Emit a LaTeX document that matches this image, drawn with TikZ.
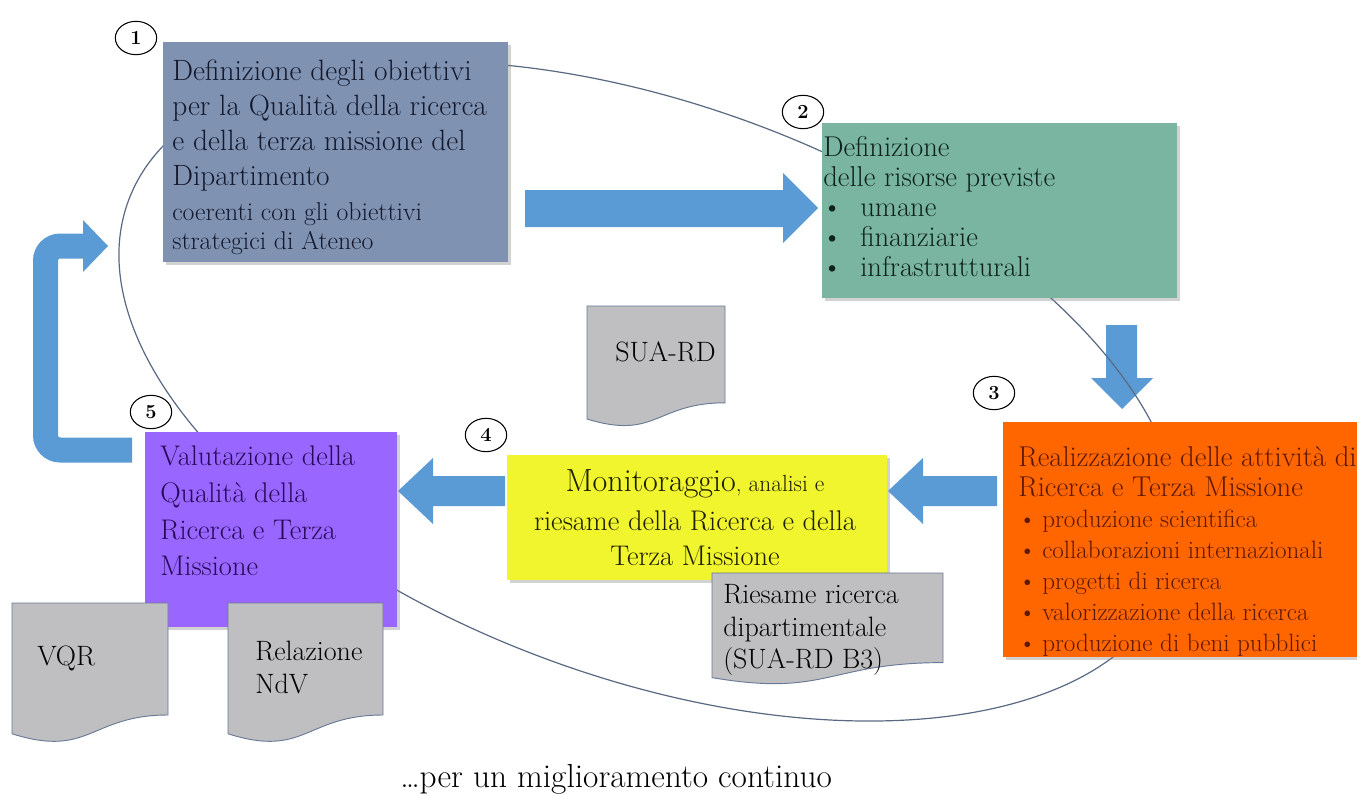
\documentclass[tikz,border=0pt]{standalone}
\usetikzlibrary{shadows,fit,shapes.geometric}
\definecolor{cA}{RGB}{127,146,178}
\definecolor{cB}{RGB}{121,181,160}
\definecolor{cC}{RGB}{255,102,0}
\definecolor{cD}{RGB}{240,245,45}
\definecolor{cE}{RGB}{153,102,255}
\definecolor{tA}{RGB}{20,25,45}
\definecolor{tB}{RGB}{15,35,30}
\definecolor{tC}{RGB}{95,25,0}
\definecolor{tD}{RGB}{30,30,0}
\definecolor{tE}{RGB}{40,10,90}
\definecolor{arr}{RGB}{91,155,213}
\definecolor{docf}{RGB}{191,191,193}
\definecolor{docd}{RGB}{105,122,150}
\definecolor{loopc}{RGB}{90,105,130}
\newcommand\bul[1]{\makebox[13.5pt][c]{\textbullet}\hspace*{#1}}
\newcommand\docshape[4]{\draw[docst] (#1,#2) -- (#3,#2) -- (#3,{#2+0.8*#4}) .. controls ({0.5*(#1+#3)},{#2+0.8*#4}) and ({0.5*(#1+#3)},{#2+1.11*#4}) .. (#1,{#2+0.934*#4}) -- cycle;}
\begin{document}
\begin{tikzpicture}[x=0.75pt,y=-0.75pt,
  box/.style={inner sep=0pt, draw=none, drop shadow={shadow xshift=2.5pt,shadow yshift=-2.5pt,opacity=0.35}},
  txt/.style={inner sep=0pt, anchor=north west, align=left},
  lin/.style={inner sep=0pt, anchor=base west},
  ctr/.style={inner sep=0pt, anchor=base, text=tD},
  dtxt/.style={inner sep=0pt, anchor=base west, text=black, font=\fontsize{21}{24}\selectfont},
  docst/.style={fill=docf, draw=docd, line width=0.7pt},
  num/.style={ellipse, draw=black, line width=0.8pt, fill=white, minimum width=31pt, minimum height=25pt, inner sep=0pt, font=\bfseries\fontsize{15}{15}\selectfont},
  blk/.style={fill=arr},
  loopst/.style={draw=loopc, line width=0.9pt}]
\useasboundingbox (0,0) rectangle (1357,793);
\fill[white] (0,0) rectangle (1357,793);

% block arrows
\fill[blk] (525,190) -- (783,190) -- (783,173) -- (818,208) -- (783,243) -- (783,227) -- (525,227) -- cycle;
\fill[blk] (1106,325) -- (1137,325) -- (1137,378) -- (1153,378) -- (1122,409) -- (1091,378) -- (1106,378) -- cycle;
\fill[blk] (997,476) -- (923,476) -- (923,458) -- (888,491) -- (923,524) -- (923,506) -- (997,506) -- cycle;
\fill[blk] (505,476) -- (433,476) -- (433,458) -- (398,491) -- (433,524) -- (433,506) -- (505,506) -- cycle;
\draw[arr, line width=18.75pt, rounded corners=11pt] (132,450) -- (45.5,450) -- (45.5,246) -- (84,246);
\fill[blk] (83,220) -- (108,246) -- (83,272) -- cycle;

% cycle line
\coordinate (oc) at (649.7,391.2);
\draw[loopst, rotate around={-20:(oc)}] (oc) ellipse [x radius=555, y radius=287];

% boxes
\node[box, fill=cA, fit={(163,42) (508,262)}] (b1) {};
\node[box, fill=cB, fit={(822,123) (1177,298)}] (b2) {};
\node[box, fill=cC, fit={(1003,422) (1362,657)}] (b3) {};
\node[box, fill=cD, fit={(507,455) (887,580)}] (b4) {};
\node[box, fill=cE, fit={(145,432) (397,627)}] (b5) {};

% documents
\docshape{587}{306}{725}{121}
\docshape{12}{603}{168}{140}
\docshape{228}{603}{383}{140}
\docshape{712}{573}{943}{112}

% texts
\node[txt, text=tA, font=\fontsize{22}{26.25}\selectfont] (t1a) at (172,60) {Definizione degli obiettivi\\per la Qualità della ricerca\\e della terza missione del\\Dipartimento};
\node[txt, text=tA, font=\fontsize{19.3}{21.75}\selectfont] (t1b) at (172,202) {coerenti con gli obiettivi\\strategici di Ateneo};

\node[txt, text=tB, font=\fontsize{21.5}{22.5}\selectfont] (t2) at (823,136) {Definizione\\delle risorse previste\\\bul{14.25pt}umane\\\bul{14.25pt}finanziarie\\\bul{14.25pt}infrastrutturali};

\node[txt, text=tC, font=\fontsize{21.5}{22.5}\selectfont] (t3a) at (1018,446) {Realizzazione delle attività di\\Ricerca e Terza Missione};
\node[txt, text=tC, font=\fontsize{18.8}{23.25}\selectfont] (t3b) at (1018,509.5) {\bul{4.5pt}produzione scientifica\\\bul{4.5pt}collaborazioni internazionali\\\bul{4.5pt}progetti di ricerca\\\bul{4.5pt}valorizzazione della ricerca\\\bul{4.5pt}produzione di beni pubblici};

\node[ctr, font=\fontsize{17.5}{20}\selectfont] (t4a) at (695,491) {{\fontsize{24}{26}\selectfont Monitoraggio}, analisi e};
\node[ctr, font=\fontsize{21.3}{24}\selectfont] (t4b) at (695,530) {riesame della Ricerca e della};
\node[ctr, font=\fontsize{21.3}{24}\selectfont] (t4c) at (695,565) {Terza Missione};

\node[txt, text=tE, font=\fontsize{21.3}{27.4}\selectfont] (t5) at (160,446) {Valutazione della\\Qualità della\\Ricerca e Terza\\Missione};

\node[dtxt] (sua) at (615,361) {SUA-RD};
\node[dtxt] (vqr) at (37,665) {VQR};
\node[dtxt] (rel1) at (255,660) {Relazione};
\node[dtxt] (rel2) at (255,693) {NdV};
\node[dtxt] (ries1) at (723,603) {Riesame ricerca};
\node[dtxt] (ries2) at (723,636) {dipartimentale};
\node[dtxt] (ries3) at (723,668) {(SUA-RD B3)};

\node[lin, text=black, font=\fontsize{25}{28}\selectfont] (foot) at (400,787) {\ldots{}per un miglioramento continuo};

% step numbers
\node[num] (n1) at (136,38) {1};
\node[num] (n2) at (803,112) {2};
\node[num] (n3) at (994,393) {3};
\node[num] (n4) at (486,435) {4};
\node[num] (n5) at (151,412) {5};
\end{tikzpicture}
\end{document}
